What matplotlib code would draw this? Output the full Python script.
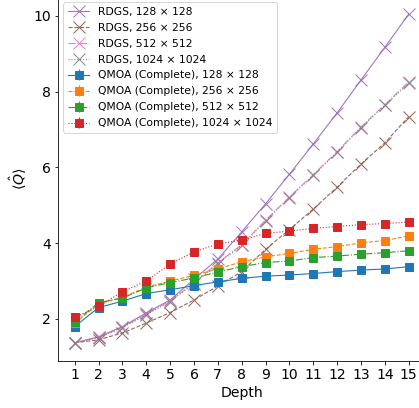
import matplotlib
matplotlib.use("Agg")
import matplotlib.pyplot as plt
import numpy as np

depth = np.arange(1, 16)

# RDGS results
rdgs_128 = [1.37, 1.53, 1.80, 2.16, 2.50, 3.05, 3.58, 4.30, 5.04, 5.82, 6.62, 7.44, 8.31, 9.17, 10.05]
rdgs_256 = [1.37, 1.45, 1.63, 1.89, 2.17, 2.50, 2.87, 3.25, 3.84, 4.36, 4.90, 5.48, 6.09, 6.65, 7.34]
rdgs_512 = [1.37, 1.52, 1.78, 2.13, 2.48, 2.95, 3.48, 3.96, 4.61, 5.22, 5.81, 6.42, 7.07, 7.66, 8.26]
rdgs_1024 = [1.37, 1.51, 1.77, 2.11, 2.46, 2.93, 3.46, 3.94, 4.59, 5.20, 5.79, 6.40, 7.05, 7.64, 8.22]

# QMOA (Complete) results
qmoa_128 = [1.80, 2.30, 2.47, 2.67, 2.77, 2.88, 2.98, 3.07, 3.13, 3.16, 3.20, 3.25, 3.29, 3.32, 3.38]
qmoa_256 = [1.89, 2.40, 2.57, 2.84, 3.00, 3.15, 3.32, 3.51, 3.64, 3.73, 3.84, 3.91, 4.01, 4.07, 4.19]
qmoa_512 = [1.92, 2.43, 2.55, 2.82, 2.96, 3.08, 3.24, 3.38, 3.49, 3.53, 3.62, 3.66, 3.71, 3.75, 3.80]
qmoa_1024 = [2.04, 2.33, 2.72, 3.00, 3.45, 3.77, 3.98, 4.08, 4.26, 4.32, 4.39, 4.44, 4.49, 4.52, 4.56]
qmoa_err = [0.08, 0.04, 0.04, 0.04, 0.04, 0.04, 0.04, 0.04, 0.04, 0.04, 0.04, 0.04, 0.04, 0.04, 0.04]

sizes = ["128 × 128", "256 × 256", "512 × 512", "1024 × 1024"]
styles = ["-", "--", "-.", ":"]
rdgs_colors = ["tab:purple", "tab:brown", "tab:pink", "tab:gray"]
qmoa_colors = ["tab:blue", "tab:orange", "tab:green", "tab:red"]

fig = plt.figure(figsize=(419 / 72, 408 / 72), dpi=72)
ax = fig.add_axes([58 / 419, 47 / 408, 367.4 / 419, 364 / 408])

for vals, c, ls, s in zip([rdgs_128, rdgs_256, rdgs_512, rdgs_1024], rdgs_colors, styles, sizes):
    ax.plot(depth, vals, ls=ls, color=c, marker="x", ms=12, lw=1.1, alpha=0.9,
            label=f"RDGS, {s}")

for vals, c, ls, s in zip([qmoa_128, qmoa_256, qmoa_512, qmoa_1024], qmoa_colors, styles, sizes):
    ax.errorbar(depth, vals, yerr=qmoa_err, ls=ls, color=c, marker="s", ms=8, lw=1.1,
                elinewidth=1.1, label=f"QMOA (Complete), {s}")

ax.set_xlim(0.3, 15.7)
ax.set_ylim(0.89, 10.5)
ax.set_xticks(depth)
ax.tick_params(labelsize=14)
ax.set_xlabel("Depth", fontsize=14)
ax.set_ylabel(r"$\langle \hat{Q} \rangle$", fontsize=14)
ax.legend(loc="upper left", fontsize=10.8, labelspacing=0.55)

fig.savefig("out.png", dpi=72)
